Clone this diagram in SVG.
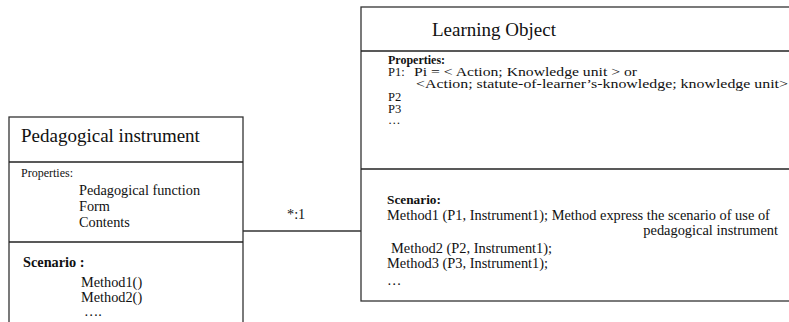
<svg xmlns="http://www.w3.org/2000/svg" width="789" height="322" viewBox="0 0 789 322">
<style>
.box{fill:#fff;stroke:#333;stroke-width:1.3}
.div{stroke:#222;stroke-width:1.3}
text{font-family:"Liberation Serif","Times New Roman",serif;fill:#111}
.title{font-size:19px}
.s{font-size:12px}
.p{font-size:12.5px}
.m{font-size:14.3px}
.sc{font-size:14.4px}
.pi{font-size:13.5px}
.b{font-size:12px;font-weight:bold}
.b2{font-size:13.3px;font-weight:bold}
.b3{font-size:14.3px;font-weight:bold}
.conn{stroke:#333;stroke-width:1.3;fill:none}
</style>
<rect width="789" height="322" fill="#fff"/>
<g id="connectors">
<line class="conn" x1="243" y1="231" x2="361" y2="231"/>
<text class="m" x="287" y="219" fill="#333">*:1</text>
</g>
<g id="pedagogical-instrument">
<rect class="box" x="9" y="117" width="234" height="220"/>
<line class="div" x1="9" y1="162" x2="243" y2="162"/>
<line class="div" x1="9" y1="242" x2="243" y2="242"/>
<text class="title" x="21" y="142">Pedagogical instrument</text>
<text class="s" x="21" y="177">Properties:</text>
<text class="m" x="79" y="195">Pedagogical function</text>
<text class="m" x="79" y="211">Form</text>
<text class="m" x="79" y="227">Contents</text>
<text class="b3" x="23" y="267">Scenario :</text>
<text class="m" x="81" y="287">Method1()</text>
<text class="m" x="81" y="302">Method2()</text>
<text class="m" x="84" y="316">….</text>
</g>
<g id="learning-object">
<rect class="box" x="361" y="7" width="440" height="294"/>
<line class="div" x1="361" y1="51" x2="789" y2="51"/>
<line class="div" x1="361" y1="169" x2="789" y2="169"/>
<text class="title" x="432" y="36">Learning Object</text>
<text class="b" x="388" y="64">Properties:</text>
<text class="p" x="388" y="76">P1:</text>
<text class="pi" x="414" y="76" textLength="223" lengthAdjust="spacingAndGlyphs">Pi = &lt; Action; Knowledge unit &gt; or</text>
<text class="pi" x="416" y="88" textLength="372" lengthAdjust="spacingAndGlyphs">&lt;Action; statute-of-learner’s-knowledge; knowledge unit&gt;</text>
<text class="p" x="388" y="101">P2</text>
<text class="p" x="388" y="113">P3</text>
<text class="p" x="388" y="124">…</text>
<text class="b2" x="387" y="204">Scenario:</text>
<text class="sc" x="387" y="220">Method1 (P1, Instrument1); Method express the scenario of use of</text>
<text class="sc" x="778" y="235" text-anchor="end">pedagogical instrument</text>
<text class="sc" x="391" y="253">Method2 (P2, Instrument1);</text>
<text class="sc" x="387" y="268">Method3 (P3, Instrument1);</text>
<text class="sc" x="387" y="285">…</text>
</g>
</svg>
